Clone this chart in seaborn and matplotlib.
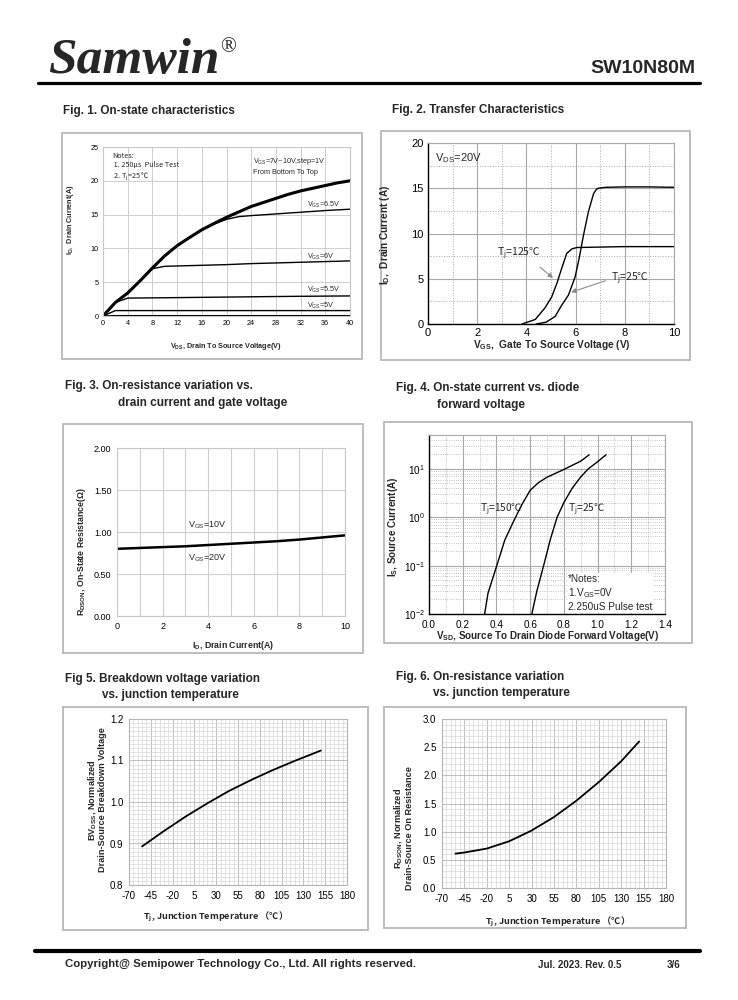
import numpy as np
import matplotlib
matplotlib.use('Agg')
import matplotlib.pyplot as plt
import seaborn as sns
from matplotlib.patches import Rectangle
from matplotlib.ticker import MultipleLocator, LogLocator, NullFormatter, FormatStrFormatter

sns.set_style('white')
plt.rcParams['font.family'] = ['Liberation Sans', 'DejaVu Sans', 'Noto Sans CJK SC']
plt.rcParams['mathtext.default'] = 'regular'
plt.rcParams['axes.unicode_minus'] = False

# 含 ℃ 和下标的文字用 CJK 字体 (mathtext 不会回退字体)
CJK = 'Noto Sans CJK SC'

# ==================== data ====================
# Fig.1 on-state characteristics
vds = [0, 2, 4, 6, 8, 10, 12, 14, 16, 18, 20, 22, 24, 26, 28, 30, 32, 34, 36, 38, 40]
id_vgs_7_10 = [0, 2.0, 3.4, 5.2, 7.1, 8.9, 10.4, 11.6, 12.75, 13.7, 14.6, 15.4, 16.2, 16.8,
               17.4, 18.0, 18.5, 18.9, 19.3, 19.7, 20.0]
vds_65 = [0, 2, 4, 6, 8, 10, 12, 14, 16, 18, 20, 22, 24, 28, 32, 36, 40]
id_vgs_65 = [0, 2.0, 3.4, 5.2, 7.1, 8.9, 10.4, 11.6, 12.7, 13.6, 14.3, 14.7, 14.85, 15.1, 15.35, 15.6, 15.8]
vds_6 = [0, 2, 4, 6, 8, 10, 16, 20, 24, 30, 36, 40]
id_vgs_6 = [0, 2.0, 3.4, 5.2, 7.0, 7.35, 7.5, 7.6, 7.75, 7.9, 8.05, 8.15]
vds_55 = [0, 2, 4, 10, 20, 30, 40]
id_vgs_55 = [0, 2.0, 2.65, 2.7, 2.8, 2.9, 2.97]
vds_5 = [0, 2, 40]
id_vgs_5 = [0, 0.8, 0.8]
vds_45 = [0, 2, 40]
id_vgs_45 = [0, 0.05, 0.05]

# Fig.2 transfer characteristics
vgs_25c = [4.4, 4.8, 5.17, 5.44, 5.71, 5.98, 6.14, 6.32, 6.52, 6.73, 6.85, 6.93, 7.2, 8.0, 9.0, 10.0]
id_25c = [0, 0.2, 0.84, 2.1, 3.2, 5.2, 7.2, 9.8, 12.4, 14.4, 14.9, 15.0, 15.1, 15.15, 15.15, 15.1]
vgs_125c = [3.82, 4.36, 4.76, 5.03, 5.24, 5.44, 5.64, 5.85, 6.05, 7.0, 8.0, 10.0]
id_125c = [0, 0.5, 1.8, 3.0, 4.5, 6.2, 7.8, 8.3, 8.45, 8.5, 8.55, 8.55]

# Fig.3 on-resistance vs drain current
id_rds = [0, 1, 2, 3, 4, 5, 6, 7, 8, 9, 10]
rdson = [0.80, 0.81, 0.82, 0.83, 0.845, 0.86, 0.875, 0.89, 0.91, 0.935, 0.96]

# Fig.4 diode forward voltage
vsd_150c = [0.33, 0.35, 0.40, 0.45, 0.50, 0.55, 0.60, 0.65, 0.70, 0.80, 0.90, 0.95]
is_150c = [0.01, 0.027, 0.095, 0.34, 0.8, 1.8, 3.6, 5.2, 6.7, 9.7, 14.4, 19.5]
vsd_25c = [0.61, 0.64, 0.68, 0.72, 0.76, 0.80, 0.85, 0.90, 0.945, 1.0, 1.05]
is_25c = [0.01, 0.03, 0.1, 0.35, 1.0, 2.0, 4.0, 6.8, 10.0, 14.0, 19.5]

# Fig.5 breakdown voltage vs Tj
tj_bv = [-55, -30, -5, 20, 45, 70, 95, 120, 150]
bvdss = [0.893, 0.930, 0.965, 0.997, 1.027, 1.053, 1.077, 1.099, 1.124]

# Fig.6 on-resistance vs Tj
tj_rds = [-55, -45, -20, 5, 30, 55, 80, 105, 130, 150]
rdson_norm = [0.61, 0.63, 0.70, 0.83, 1.02, 1.26, 1.55, 1.88, 2.25, 2.60]

tj_ticks = [-70, -45, -20, 5, 30, 55, 80, 105, 130, 155, 180]

# ==================== layout helpers ====================
W, H = 738, 1000
fig = plt.figure(figsize=(W / 100, H / 100), dpi=100)
fig.patch.set_facecolor('white')


def add_ax(l, t, r, b):
    return fig.add_axes([l / W, 1 - b / H, (r - l) / W, (b - t) / H])


def box(l, t, r, b):
    fig.patches.append(Rectangle((l / W, 1 - b / H), (r - l) / W, (b - t) / H,
                                 transform=fig.transFigure, fill=False,
                                 ec='#b8b8b8', lw=1.3))


def ftext(x, y, s, **kw):
    fig.text(x / W, 1 - y / H, s, **kw)


def labels(xl, xpos, yl, ypos, size, xfam=None):
    kw = {'family': xfam} if xfam else {}
    ftext(xpos[0], xpos[1], xl, ha='center', va='center', fontsize=size, fontweight='bold', **kw)
    ftext(ypos[0], ypos[1], yl, ha='center', va='center', fontsize=size,
          fontweight='bold', rotation=90, linespacing=1.0)


def style(ax, spine_c='#c8c8c8', tick_size=7):
    for s in ax.spines.values():
        s.set_color(spine_c)
        s.set_linewidth(0.8)
    ax.tick_params(which='both', length=0, labelsize=tick_size, pad=4, colors='black')
    ax.set_xlabel('')
    ax.set_ylabel('')


# ==================== header / footer ====================
ftext(48, 73, 'Samwin', family='Liberation Serif', fontweight='bold', style='italic',
      fontsize=37, va='baseline', ha='left')
ftext(220, 48, '®', family='Liberation Serif', fontsize=15, va='center', ha='left')
ftext(695, 68, 'SW10N80M', fontweight='bold', fontsize=14, va='center', ha='right')
fig.add_artist(plt.Line2D([38 / W, 700 / W], [1 - 83 / H, 1 - 83 / H], color='black', lw=2.3))
fig.add_artist(plt.Line2D([35 / W, 700 / W], [1 - 951 / H, 1 - 951 / H], color='black', lw=3.0))
ftext(65, 964, 'Copyright@ Semipower Technology Co., Ltd. All rights reserved.',
      fontweight='bold', fontsize=8.2, va='center')
ftext(538, 965, 'Jul. 2023. Rev. 0.5', fontweight='bold', fontsize=7, va='center')
ftext(667, 965, '3/6', fontweight='bold', fontsize=7, va='center')

# ==================== titles ====================
tfs = 8.5
ftext(63, 111, 'Fig. 1. On-state characteristics', fontweight='bold', fontsize=tfs, va='center')
ftext(392, 110, 'Fig. 2. Transfer Characteristics', fontweight='bold', fontsize=tfs, va='center')
ftext(65, 386, 'Fig. 3. On-resistance variation vs.', fontweight='bold', fontsize=tfs, va='center')
ftext(118, 403, 'drain current and gate voltage', fontweight='bold', fontsize=tfs, va='center')
ftext(396, 388, 'Fig. 4. On-state current vs. diode', fontweight='bold', fontsize=tfs, va='center')
ftext(437, 405, 'forward voltage', fontweight='bold', fontsize=tfs, va='center')
ftext(65, 679, 'Fig 5. Breakdown voltage variation', fontweight='bold', fontsize=tfs, va='center')
ftext(102, 695, 'vs. junction temperature', fontweight='bold', fontsize=tfs, va='center')
ftext(396, 677, 'Fig. 6. On-resistance variation', fontweight='bold', fontsize=tfs, va='center')
ftext(433, 693, 'vs. junction temperature', fontweight='bold', fontsize=tfs, va='center')

# ==================== Fig.1 ====================
box(62, 133, 362, 359)
ax1 = add_ax(103, 147, 350, 316)
sns.lineplot(x=vds, y=id_vgs_7_10, ax=ax1, color='black', lw=2.2, estimator=None)
for xs, ys in [(vds_65, id_vgs_65), (vds_6, id_vgs_6), (vds_55, id_vgs_55),
               (vds_5, id_vgs_5), (vds_45, id_vgs_45)]:
    sns.lineplot(x=xs, y=ys, ax=ax1, color='black', lw=1.0, estimator=None)
ax1.set_xlim(0, 40)
ax1.set_ylim(0, 25)
ax1.xaxis.set_major_locator(MultipleLocator(4))
ax1.yaxis.set_major_locator(MultipleLocator(5))
ax1.grid(True, color='#cfcfcf', lw=0.7)
style(ax1, tick_size=5.2)
ax1.tick_params(pad=3)
f1 = 5.2
ax1.text(1.5, 24.3, 'Notes:\n 1. 250μs  Pulse Test\n 2. T$_j$=25 ℃', fontsize=f1, va='top',
         linespacing=1.2, family=CJK)
ax1.text(24.3, 23.6, 'V$_{GS}$=7V~10V,step=1V\nFrom Bottom To Top', fontsize=f1, va='top',
         linespacing=1.3)
ax1.text(33.0, 16.45, 'V$_{GS}$=6.5V', fontsize=f1, va='center')
ax1.text(33.0, 8.8, 'V$_{GS}$=6V', fontsize=f1, va='center')
ax1.text(33.0, 3.85, 'V$_{GS}$=5.5V', fontsize=f1, va='center')
ax1.text(33.0, 1.55, 'V$_{GS}$=5V', fontsize=f1, va='center')
labels('V$_{DS}$, Drain To Source Voltage(V)', (226, 347),
       'I$_D$,  Drain Current(A)', (70, 220), 5.2)

# ==================== Fig.2 ====================
box(381, 131, 690, 360)
ax2 = add_ax(428, 143, 674, 324)
sns.lineplot(x=vgs_25c, y=id_25c, ax=ax2, color='black', lw=1.0, estimator=None)
sns.lineplot(x=vgs_125c, y=id_125c, ax=ax2, color='black', lw=1.0, estimator=None)
ax2.set_xlim(0, 10)
ax2.set_ylim(0, 20)
ax2.xaxis.set_major_locator(MultipleLocator(2))
ax2.xaxis.set_minor_locator(MultipleLocator(1))
ax2.yaxis.set_major_locator(MultipleLocator(5))
ax2.yaxis.set_minor_locator(MultipleLocator(2.5))
ax2.grid(True, which='major', color='#a8a8a8', lw=0.8)
ax2.grid(True, which='minor', color='#a8a8a8', lw=0.7, ls=':')
style(ax2, spine_c='#a8a8a8', tick_size=8)
ax2.tick_params(which='both', length=0, pad=3)
for s in ['left', 'bottom']:
    ax2.spines[s].set_color('black')
    ax2.spines[s].set_linewidth(1.0)
ax2.text(0.3, 18.3, 'V$_{DS}$=20V', fontsize=8, va='center')
arrow = dict(arrowstyle='-|>', color='#8a8a8a', lw=0.8, mutation_scale=7)
ax2.annotate('T$_j$=125℃', xy=(5.17, 4.88), xytext=(2.8, 7.8), fontsize=7.5, family=CJK,
             va='center', arrowprops=dict(arrow, relpos=(0.85, 0.0)))
ax2.annotate('T$_j$=25℃', xy=(5.71, 3.41), xytext=(7.45, 5.0), fontsize=7.5, family=CJK,
             va='center', arrowprops=dict(arrow, relpos=(0.0, 0.5)))
labels('V$_{GS}$,  Gate To Source Voltage (V)', (552, 345),
       'I$_D$,  Drain Current (A)', (385, 235), 7.3)

# ==================== Fig.3 ====================
box(63, 424, 363, 653)
ax3 = add_ax(117, 448, 345, 616)
sns.lineplot(x=id_rds, y=rdson, ax=ax3, color='black', lw=1.8, estimator=None)
ax3.set_xlim(0, 10)
ax3.set_ylim(0, 2)
ax3.xaxis.set_major_locator(MultipleLocator(2))
ax3.xaxis.set_minor_locator(MultipleLocator(1))
ax3.yaxis.set_major_locator(MultipleLocator(0.5))
ax3.yaxis.set_major_formatter(FormatStrFormatter('%.2f'))
ax3.grid(True, which='both', color='#cfcfcf', lw=0.8)
style(ax3, tick_size=6.5)
ax3.text(3.12, 1.08, 'V$_{GS}$=10V', fontsize=6.5, va='center')
ax3.text(3.12, 0.685, 'V$_{GS}$=20V', fontsize=6.5, va='center')
labels('I$_D$, Drain Current(A)', (233, 645),
       'R$_{DSON}$, On-State Resistance(Ω)', (82, 552), 6.3)

# ==================== Fig.4 ====================
box(384, 422, 692, 643)
ax4 = add_ax(429, 435, 665, 614)
ax4.set_yscale('log')
sns.lineplot(x=vsd_150c, y=is_150c, ax=ax4, color='black', lw=1.0, estimator=None)
sns.lineplot(x=vsd_25c, y=is_25c, ax=ax4, color='black', lw=1.0, estimator=None)
ax4.set_xlim(0, 1.4)
ax4.set_ylim(0.01, 50)
ax4.xaxis.set_major_locator(MultipleLocator(0.2))
ax4.xaxis.set_minor_locator(MultipleLocator(0.1))
ax4.xaxis.set_major_formatter(FormatStrFormatter('%.1f'))
ax4.yaxis.set_major_locator(LogLocator(base=10, numticks=10))
ax4.yaxis.set_minor_locator(LogLocator(base=10, subs=np.arange(2, 10), numticks=20))
ax4.yaxis.set_minor_formatter(NullFormatter())
ax4.grid(True, which='major', color='#a8a8a8', lw=0.8)
ax4.grid(True, which='minor', color='#b0b0b0', lw=0.6, ls=':')
style(ax4, spine_c='#a8a8a8', tick_size=7.2)
ax4.tick_params(axis='x', which='both', length=0, pad=4.5)
ax4.tick_params(axis='y', which='both', length=0, pad=3)
for s in ['left', 'bottom']:
    ax4.spines[s].set_color('black')
    ax4.spines[s].set_linewidth(1.0)
ax4.text(0.30, 1.44, 'T$_j$=150℃', fontsize=7.3, va='center', family=CJK)
ax4.text(0.826, 1.44, 'T$_j$=25℃', fontsize=7.3, va='center', family=CJK)
ax4.text(0.826, 0.068, '*Notes:\n1.V$_{GS}$=0V\n2.250uS Pulse test', fontsize=7.2,
         va='top', linespacing=1.25, bbox=dict(fc='white', ec='none', pad=0.5))
labels('V$_{SD}$, Source To Drain Diode Forward Voltage(V)', (548, 636),
       'I$_S$, Source Current(A)', (393, 527), 7.1)

# ==================== Fig.5 ====================
box(63, 707, 368, 930)
ax5 = add_ax(129, 719, 347, 885)
sns.lineplot(x=tj_bv, y=bvdss, ax=ax5, color='black', lw=1.3, estimator=None)
ax5.set_xlim(-70, 180)
ax5.set_ylim(0.8, 1.2)
ax5.set_xticks(tj_ticks)
ax5.xaxis.set_minor_locator(MultipleLocator(5))
ax5.yaxis.set_major_locator(MultipleLocator(0.1))
ax5.yaxis.set_minor_locator(MultipleLocator(0.01))
ax5.yaxis.set_major_formatter(FormatStrFormatter('%.1f'))
ax5.grid(True, which='major', color='#b4b4b4', lw=0.6)
ax5.grid(True, which='minor', color='#d8d8d8', lw=0.5)
style(ax5, spine_c='#b4b4b4', tick_size=7)
labels('T$_j$, Junction Temperature （℃）', (213, 917),
       'BV$_{DSS}$, Normalized\nDrain-Source Breakdown Voltage', (96, 800), 6.6, xfam=CJK)

# ==================== Fig.6 ====================
box(384, 707, 686, 928)
ax6 = add_ax(442, 719, 666, 888)
sns.lineplot(x=tj_rds, y=rdson_norm, ax=ax6, color='black', lw=1.3, estimator=None)
ax6.set_xlim(-70, 180)
ax6.set_ylim(0, 3)
ax6.set_xticks(tj_ticks)
ax6.xaxis.set_minor_locator(MultipleLocator(5))
ax6.yaxis.set_major_locator(MultipleLocator(0.5))
ax6.yaxis.set_minor_locator(MultipleLocator(0.1))
ax6.yaxis.set_major_formatter(FormatStrFormatter('%.1f'))
ax6.grid(True, which='major', color='#b4b4b4', lw=0.6)
ax6.grid(True, which='minor', color='#d8d8d8', lw=0.5)
style(ax6, spine_c='#b4b4b4', tick_size=7)
labels('T$_j$, Junction Temperature （℃）', (555, 922),
       'R$_{DSON}$, Normalized\nDrain-Source On Resistance', (403, 828), 6.6, xfam=CJK)

fig.savefig('out.png', dpi=100, facecolor='white')
